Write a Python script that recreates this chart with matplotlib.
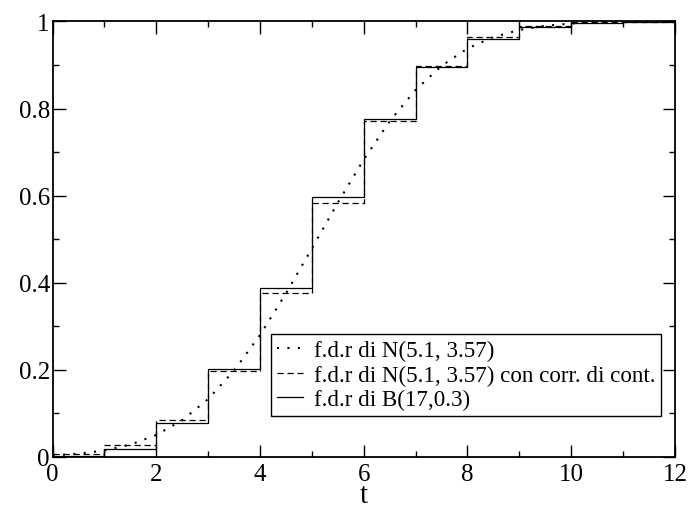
import matplotlib
matplotlib.use("Agg")
import matplotlib.pyplot as plt
from matplotlib.ticker import MultipleLocator

# valori
k = [0, 1, 2, 3, 4, 5, 6, 7, 8, 9, 10, 11, 12]
# f.d.r di B(17, 0.3)
binom = [0.0023, 0.0193, 0.0774, 0.2019, 0.3887, 0.5968, 0.7752,
         0.8954, 0.9597, 0.9873, 0.9968, 0.9993, 0.9999]
# f.d.r di N(5.1, 3.57) con correzione di continuita'
corr = [0.0074, 0.0284, 0.0844, 0.1985, 0.3754, 0.5838, 0.7707,
        0.8980, 0.9640, 0.9901, 0.9979, 0.9997, 1.0000]
# f.d.r di N(5.1, 3.57)
t = [0, 0.5, 1, 1.5, 2, 2.5, 3, 3.5, 4, 4.5, 5, 5.5, 6, 6.5, 7, 7.5,
     8, 8.5, 9, 9.5, 10, 10.5, 11, 11.5, 12]
norm = [0.0035, 0.0074, 0.0150, 0.0284, 0.0505, 0.0844, 0.1330, 0.1985,
        0.2800, 0.3754, 0.4790, 0.5838, 0.6830, 0.7707, 0.8430, 0.8980,
        0.9380, 0.9640, 0.9805, 0.9901, 0.9952, 0.9979, 0.9991, 0.9997, 0.9999]

plt.rcParams['font.family'] = ['Liberation Serif', 'DejaVu Serif']

fig = plt.figure(figsize=(6.93, 5.10), dpi=100)
ax = fig.add_axes([0.0758, 0.102, 0.8982, 0.854])

ax.plot(t, norm, color='black', linestyle=(0, (1, 4)), linewidth=1.5,
        label='f.d.r di N(5.1, 3.57)')
ax.step(k, corr, where='post', color='black', linestyle=(0, (5, 3)),
        linewidth=0.9, label='f.d.r di N(5.1, 3.57) con corr. di cont.')
ax.step(k, binom, where='post', color='black', linewidth=0.9,
        label='f.d.r di B(17,0.3)')

ax.set_xlim(0, 12)
ax.set_ylim(0, 1)
ax.xaxis.set_major_locator(MultipleLocator(2))
ax.xaxis.set_minor_locator(MultipleLocator(1))
ax.yaxis.set_major_locator(MultipleLocator(0.2))
ax.yaxis.set_minor_locator(MultipleLocator(0.1))
ax.set_yticks([0, 0.2, 0.4, 0.6, 0.8, 1])
ax.set_yticklabels(['0', '0.2', '0.4', '0.6', '0.8', '1'])

ax.tick_params(which='both', direction='in', top=True, right=True,
               labelsize=18, width=1)
ax.tick_params(which='major', length=9)
ax.tick_params(which='minor', length=4.5)
ax.tick_params(axis='x', which='major', pad=4)
ax.tick_params(axis='y', which='major', pad=2)
for s in ax.spines.values():
    s.set_linewidth(1.3)

ax.set_xlabel('t', fontsize=21, labelpad=-2)

leg = ax.legend(loc='lower right', bbox_to_anchor=(0.9775, 0.094),
                fontsize=16.6, frameon=True, fancybox=False, framealpha=1,
                edgecolor='black', handlelength=1.15, handletextpad=0.45,
                borderpad=0.25, labelspacing=0.15, borderaxespad=0)
leg.get_frame().set_linewidth(1.0)

fig.savefig('out.png', dpi=100)
